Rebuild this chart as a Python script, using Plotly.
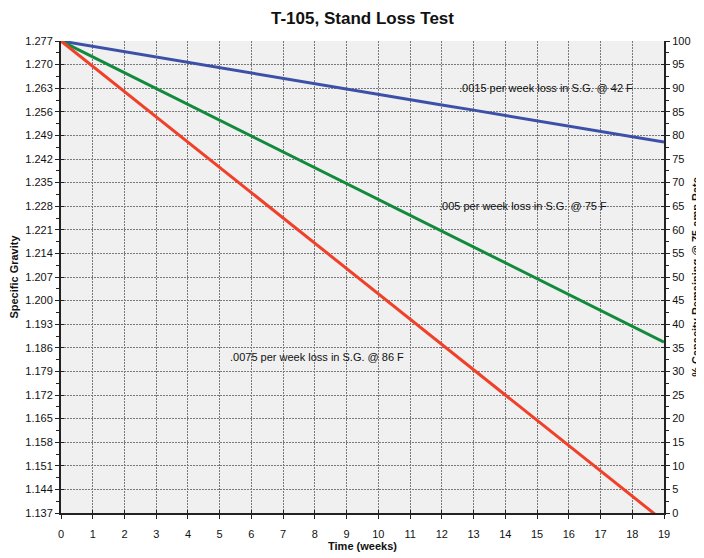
import plotly.graph_objects as go

weeks = list(range(20))
sg_42f = [1.2770, 1.2754, 1.2738, 1.2723, 1.2707, 1.2691, 1.2675, 1.2659, 1.2644, 1.2628,
          1.2612, 1.2596, 1.2580, 1.2565, 1.2549, 1.2533, 1.2517, 1.2501, 1.2486, 1.2470]
sg_75f = [1.2770, 1.2723, 1.2676, 1.2629, 1.2582, 1.2535, 1.2488, 1.2441, 1.2394, 1.2347,
          1.2300, 1.2253, 1.2206, 1.2159, 1.2112, 1.2065, 1.2018, 1.1971, 1.1924, 1.1877]
sg_86f = [1.2770, 1.2695, 1.2620, 1.2545, 1.2470, 1.2395, 1.2320, 1.2245, 1.2170, 1.2095,
          1.2020, 1.1945, 1.1870, 1.1795, 1.1720, 1.1645, 1.1570, 1.1495, 1.1420, 1.1345]

week_range = [0, 19]
sg_range = [1.137, 1.277]
sg_step = 0.007
cap_range = [0, 100]
cap_step = 5

labels = [
    (".0015 per week loss in S.G. @ 42 F", 15.28, 1.2631),
    (".005 per week loss in S.G. @ 75 F", 14.56, 1.2280),
    (".0075 per week loss in S.G. @ 86 F", 8.07, 1.1833),
]

FONT = "Arial, 'Liberation Sans', sans-serif"
GRID = "#7a7a7a"
GDASH = "2px,1px"
AX = "#222"

# page body has an 8px margin; the figure is sized to fill the rest of the window
W, H = 696, 550
ML, MT, MR, MB = 53, 33, 40, 45

fig = go.Figure()
fig.add_trace(go.Scatter(x=weeks, y=sg_42f, mode="lines", line=dict(color="#3d50a8", width=3), showlegend=False))
fig.add_trace(go.Scatter(x=weeks, y=sg_75f, mode="lines", line=dict(color="#128a3e", width=3), showlegend=False))
fig.add_trace(go.Scatter(x=weeks, y=sg_86f, mode="lines", line=dict(color="#f0402a", width=3), showlegend=False))
# invisible carriers so the right-hand axis and the inner tick axes are drawn
fig.add_trace(go.Scatter(x=week_range, y=cap_range, yaxis="y2", mode="lines",
                         line=dict(width=0), opacity=0, showlegend=False, hoverinfo="skip"))
fig.add_trace(go.Scatter(x=week_range, y=sg_range, xaxis="x2", yaxis="y3", mode="lines",
                         line=dict(width=0), opacity=0, showlegend=False, hoverinfo="skip"))
fig.add_trace(go.Scatter(x=week_range, y=cap_range, yaxis="y4", mode="lines",
                         line=dict(width=0), opacity=0, showlegend=False, hoverinfo="skip"))

for text, x, y in labels:
    fig.add_annotation(x=x, y=y, text=text, showarrow=False,
                       font=dict(family=FONT, size=11, color="#111"))

inner = dict(showgrid=False, zeroline=False, showline=False, showticklabels=False,
             ticks="inside", ticklen=3, tickcolor=AX, automargin=False)

fig.update_layout(
    width=W, height=H,
    margin=dict(l=ML, r=MR, t=MT, b=MB),
    paper_bgcolor="white",
    plot_bgcolor="#f0f0f0",
    font=dict(family=FONT, size=11, color="#111"),
    title=dict(text="<b>T-105, Stand Loss Test</b>", x=(ML + (W - MR)) / 2 / W, xanchor="center",
               y=1 - 10 / H, yanchor="middle", font=dict(size=17, color="#111")),
    xaxis=dict(range=week_range, dtick=1, tick0=0, showgrid=True, gridcolor=GRID, griddash=GDASH,
               gridwidth=1, showline=True, linecolor=AX, linewidth=2, ticks="outside",
               ticklen=4, tickcolor=AX, zeroline=False, automargin=False, ticklabelstandoff=6,
               title=dict(text="<b>Time (weeks)</b>", standoff=3, font=dict(size=11))),
    xaxis2=dict(range=week_range, dtick=1, tick0=0, overlaying="x", side="bottom", anchor="y", **inner),
    yaxis=dict(range=sg_range, tick0=sg_range[0], dtick=sg_step, tickformat=".3f",
               showgrid=True, gridcolor=GRID, griddash=GDASH, gridwidth=1,
               showline=True, linecolor=AX, linewidth=2, ticks="outside", ticklen=4,
               tickcolor=AX, zeroline=False, automargin=False,
               minor=dict(dtick=sg_step / 2, tick0=sg_range[0], ticks="outside", ticklen=3, tickcolor=AX, showgrid=False),
               title=dict(text="<b>Specific Gravity</b>", standoff=4, font=dict(size=11))),
    yaxis3=dict(range=sg_range, tick0=sg_range[0], dtick=sg_step, overlaying="y", side="left", anchor="x", **inner),
    yaxis2=dict(range=cap_range, tick0=0, dtick=cap_step, overlaying="y", side="right",
                showgrid=False, showline=True, linecolor=AX, linewidth=2, ticks="outside",
                ticklen=4, tickcolor=AX, zeroline=False, automargin=False,
                minor=dict(dtick=cap_step / 2, ticks="outside", ticklen=3, tickcolor=AX),
                title=dict(text="<b>% Capacity Remaining @ 75 amp Rate</b>", standoff=3, font=dict(size=11))),
    yaxis4=dict(range=cap_range, tick0=0, dtick=cap_step, overlaying="y", side="right", anchor="x", **inner),
)

fig.write_html("out.html")
